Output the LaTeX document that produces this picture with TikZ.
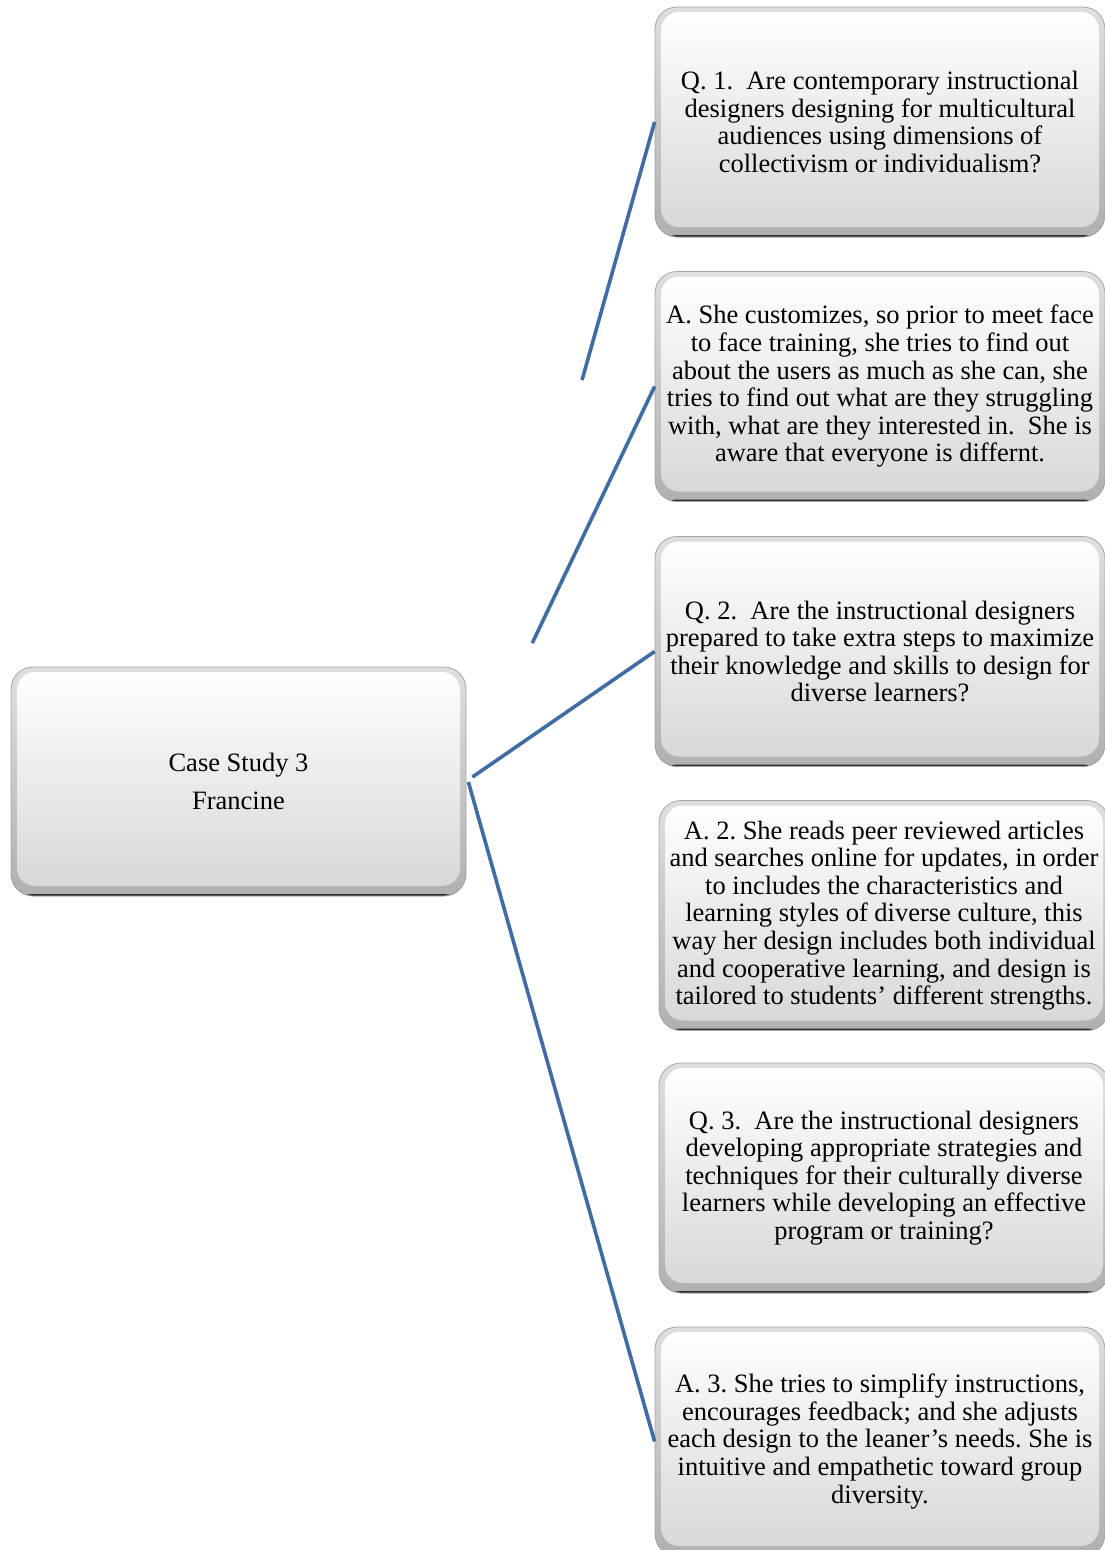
\documentclass[tikz,border=0pt]{standalone}
\usepackage{fontspec}
\setmainfont{Liberation Serif}
\usetikzlibrary{calc}
\definecolor{linkblue}{RGB}{62,108,165}
\frenchspacing
\begin{document}
\begin{tikzpicture}[x=1pt,y=-1pt,
  card/.style={rectangle, rounded corners=22pt, minimum width=450pt, minimum height=230pt,
    inner sep=0pt, align=center, font=\fontsize{26.5}{27.6}\selectfont,
    top color=gray!25, bottom color=gray!62, draw=gray!70, line width=0.8pt,
    path picture={
      % raised face of the card
      \shade[rounded corners=18pt, top color=white, middle color=gray!9, bottom color=gray!32]
        ([xshift=6pt,yshift=-5pt]path picture bounding box.north west)
        rectangle ([xshift=-6pt,yshift=10pt]path picture bounding box.south east);
      % dark lower rim
      \fill[gray!35!black] (path picture bounding box.south west)
        rectangle ([yshift=2pt]path picture bounding box.south east);
    }},
  link/.style={draw=linkblue, line width=3.6pt}
]
\useasboundingbox (0,0) rectangle (1105,1550);

% central node
\node[card, minimum width=455pt, minimum height=229pt] (root) at (238.5,781.5)
  {Case Study 3\\[10pt]Francine};

% questions and answers
\node[card] (q1) at (880,122)
  {Q. 1.\ \ Are contemporary instructional\\designers designing for multicultural\\audiences using dimensions of\\collectivism or individualism?};
\node[card] (a1) at (880,386.5)
  {A. She customizes, so prior to meet face\\to face training, she tries to find out\\about the users as much as she can, she\\tries to find out what are they struggling\\with, what are they interested in.\ \ She is\\aware that everyone is differnt.};
\node[card] (q2) at (880,651.5)
  {Q. 2.\ \ Are the instructional designers\\prepared to take extra steps to maximize\\their knowledge and skills to design for\\diverse learners?};
\node[card] (a2) at (884,915.5)
  {A. 2. She reads peer reviewed articles\\and searches online for updates, in order\\to includes the characteristics and\\learning styles of diverse culture, this\\way her design includes both individual\\and cooperative learning, and design is\\tailored to students’ different strengths.};
\node[card] (q3) at (884,1178)
  {Q. 3.\ \ Are the instructional designers\\developing appropriate strategies and\\techniques for their culturally diverse\\learners while developing an effective\\program or training?};
\node[card, minimum height=229pt] (a3) at (880,1441.5)
  {A. 3. She tries to simplify instructions,\\encourages feedback; and she adjusts\\each design to the leaner’s needs. She is\\intuitive and empathetic toward group\\diversity.};

% connectors from the central node
\coordinate (q1cut) at ($(q1.west)!0.394!([xshift=4pt,yshift=4.5pt]root.east)$);
\coordinate (a1cut) at ($(a1.west)!0.657!([xshift=2pt,yshift=4.5pt]root.east)$);
\draw[link] (q1.west) -- (q1cut);
\draw[link] (a1.west) -- (a1cut);
\draw[link] (q2.west) -- ([xshift=6pt,yshift=4.5pt]root.east);
\draw[link] ([xshift=2pt,yshift=-0.5pt]root.east) -- (a3.west);
\end{tikzpicture}
\end{document}
